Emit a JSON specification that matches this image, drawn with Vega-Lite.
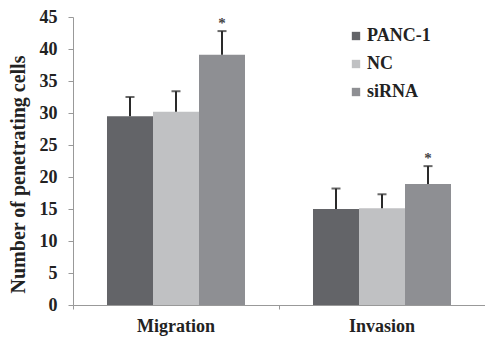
{
  "$schema": "https://vega.github.io/schema/vega-lite/v6.json",
  "width": 412,
  "height": 288,
  "autosize": {"type": "none"},
  "padding": {"left": 73, "top": 17, "right": 0, "bottom": 37},
  "background": "white",
  "config": {
    "view": {"stroke": null},
    "font": "Liberation Serif",
    "axisY": {
      "tickCount": 10,
      "labelOverlap": false,
      "grid": false,
      "domainColor": "#999999", "tickColor": "#999999", "tickSize": 5,
      "labelFont": "Liberation Serif", "labelFontWeight": "bold", "labelFontSize": 18,
      "labelColor": "#222222", "labelPadding": 11,
      "titleFont": "Liberation Serif", "titleFontWeight": "bold", "titleFontSize": 20,
      "titleColor": "#222222", "titleX": -45, "titleY": 157, "titleBaseline": "bottom"
    }
  },
  "data": {
    "values": [
      {"assay": "Migration", "group": "PANC-1", "value": 29.5, "upper": 32.5, "sig": ""},
      {"assay": "Migration", "group": "NC", "value": 30.2, "upper": 33.4, "sig": ""},
      {"assay": "Migration", "group": "siRNA", "value": 39.1, "upper": 42.8, "sig": "*"},
      {"assay": "Invasion", "group": "PANC-1", "value": 15.0, "upper": 18.2, "sig": ""},
      {"assay": "Invasion", "group": "NC", "value": 15.1, "upper": 17.3, "sig": ""},
      {"assay": "Invasion", "group": "siRNA", "value": 18.9, "upper": 21.7, "sig": "*"}
    ]
  },
  "encoding": {
    "x": {
      "field": "assay", "type": "nominal", "sort": ["Migration", "Invasion"],
      "scale": {"paddingInner": 0, "paddingOuter": 0},
      "axis": {
        "title": null, "labelAngle": 0, "bandPosition": 0,
        "domainColor": "#999999", "tickColor": "#999999", "tickSize": 4,
        "labelFont": "Liberation Serif", "labelFontWeight": "bold", "labelFontSize": 18,
        "labelColor": "#222222", "labelPadding": 8
      }
    },
    "xOffset": {
      "field": "group", "type": "nominal", "sort": ["PANC-1", "NC", "siRNA"],
      "scale": {"paddingInner": 0, "paddingOuter": 0.739}
    }
  },
  "layer": [
    {
      "mark": {"type": "bar"},
      "encoding": {
        "y": {
          "field": "value", "type": "quantitative",
          "scale": {"domain": [0, 45]},
          "axis": {"title": "Number of penetrating cells"}
        },
        "color": {
          "field": "group", "type": "nominal", "sort": ["PANC-1", "NC", "siRNA"],
          "scale": {"domain": ["PANC-1", "NC", "siRNA"], "range": ["#636468", "#c0c1c3", "#8e8f93"]},
          "legend": {
            "title": null, "orient": "none", "legendX": 274, "legendY": 10,
            "symbolType": "square", "symbolSize": 70, "symbolStrokeWidth": 0,
            "labelFont": "Liberation Serif", "labelFontWeight": "bold", "labelFontSize": 18,
            "labelColor": "#222222", "rowPadding": 10, "labelOffset": 2
          }
        }
      }
    },
    {
      "mark": {"type": "rule", "strokeWidth": 2},
      "encoding": {
        "y": {"field": "value", "type": "quantitative"},
        "y2": {"field": "upper"},
        "color": {"value": "#2a2a2a"}
      }
    },
    {
      "mark": {"type": "tick", "thickness": 2, "size": 9, "orient": "horizontal"},
      "encoding": {
        "y": {"field": "upper", "type": "quantitative"},
        "color": {"value": "#2a2a2a"}
      }
    },
    {
      "mark": {"type": "text", "dy": -8, "fontSize": 15, "fontWeight": "bold", "font": "Liberation Serif"},
      "encoding": {
        "y": {"field": "upper", "type": "quantitative"},
        "text": {"field": "sig"},
        "color": {"value": "#444444"}
      }
    }
  ]
}
